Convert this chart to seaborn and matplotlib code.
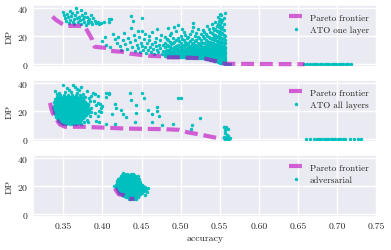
import matplotlib
matplotlib.use("Agg")
import matplotlib.pyplot as plt
import seaborn as sns
import pandas as pd

sns.set_theme(style="darkgrid")
plt.rcParams['font.family'] = ['cmr10', 'DejaVu Serif']
plt.rcParams['axes.formatter.use_mathtext'] = True
plt.rcParams['axes.unicode_minus'] = False

# ---- ATO one layer (panel 1) ----
one_front = [(0.336, 34.0), (0.341, 31.5), (0.348, 29.0), (0.355, 27.4), (0.371, 27.4),
             (0.378, 26.5), (0.387, 17.5), (0.390, 12.5), (0.405, 11.6), (0.411, 9.5),
             (0.428, 8.7), (0.435, 7.6), (0.451, 6.5), (0.460, 6.0), (0.477, 5.6),
             (0.483, 4.9), (0.500, 4.9), (0.509, 4.6), (0.527, 4.3), (0.534, 3.6),
             (0.550, 1.5), (0.556, 0.3), (0.658, 0.0)]

one_upper = [(0.350, 37.5), (0.351, 35.0), (0.352, 33.0), (0.353, 31.0), (0.355, 36.0),
             (0.356, 33.5), (0.357, 29.5), (0.358, 31.5), (0.359, 38.0), (0.360, 34.5),
             (0.361, 36.5), (0.362, 30.0), (0.363, 32.5), (0.364, 28.5), (0.365, 35.0),
             (0.366, 40.0), (0.367, 33.0), (0.368, 37.0), (0.369, 30.5), (0.370, 34.0),
             (0.371, 31.5), (0.372, 38.5), (0.373, 29.0), (0.374, 35.5), (0.375, 32.0),
             (0.376, 33.5), (0.377, 30.0), (0.378, 36.5), (0.379, 28.0), (0.380, 34.0),
             (0.381, 31.0), (0.382, 29.5), (0.383, 32.5), (0.385, 35.5), (0.386, 30.5),
             (0.387, 28.5), (0.388, 33.0), (0.390, 31.0), (0.392, 29.5), (0.394, 30.5),
             (0.396, 28.7), (0.398, 29.5), (0.402, 30.0), (0.408, 32.5), (0.411, 32.5),
             (0.409, 30.0)]

one_mid = [(0.399, 16.7), (0.403, 19.4), (0.405, 14.0), (0.410, 12.5), (0.413, 21.8),
           (0.416, 18.0), (0.418, 15.5), (0.420, 19.5), (0.422, 13.0), (0.424, 10.5),
           (0.426, 17.0), (0.427, 22.5), (0.429, 14.5), (0.431, 11.0), (0.433, 19.0),
           (0.435, 16.0), (0.437, 34.5), (0.437, 26.0), (0.438, 12.5), (0.439, 31.0),
           (0.440, 21.0), (0.441, 9.5), (0.442, 17.5), (0.444, 14.0), (0.445, 24.0),
           (0.446, 11.5), (0.447, 19.5), (0.448, 8.5), (0.449, 15.5), (0.450, 13.0),
           (0.451, 33.0), (0.451, 24.0), (0.452, 10.0), (0.453, 18.0), (0.454, 21.5),
           (0.455, 12.0), (0.456, 8.0), (0.457, 15.0), (0.458, 10.5), (0.459, 17.0),
           (0.460, 20.0), (0.461, 12.5), (0.462, 9.0), (0.463, 14.5), (0.464, 23.0),
           (0.465, 11.0), (0.466, 7.5), (0.467, 16.0), (0.468, 13.0), (0.469, 19.0),
           (0.470, 25.5), (0.470, 10.0), (0.471, 8.5), (0.472, 14.0), (0.473, 17.5),
           (0.474, 11.5), (0.475, 21.0), (0.476, 7.0), (0.477, 13.5), (0.478, 9.5)]

one_band = {
    0.480: [5.6, 7.2, 9.1, 12.0, 15.3, 19.8],
    0.484: [5.3, 6.4, 8.2, 10.5, 13.1, 17.0, 26.0],
    0.488: [5.1, 6.8, 8.8, 11.2, 14.4, 22.5],
    0.492: [5.0, 6.1, 7.6, 9.8, 12.6, 16.2, 26.7],
    0.496: [4.9, 5.8, 7.0, 8.9, 11.0, 13.8, 18.5, 27.8],
    0.500: [4.8, 6.3, 7.9, 9.6, 12.1, 15.0, 20.5],
    0.504: [4.8, 5.6, 7.1, 8.5, 10.3, 13.2, 17.3, 23.0],
    0.508: [4.7, 5.9, 6.8, 8.0, 9.4, 11.5, 14.6, 19.0],
    0.512: [4.6, 5.4, 6.5, 7.6, 9.0, 10.8, 13.0, 16.4, 21.8],
    0.516: [4.6, 5.7, 6.9, 8.2, 9.9, 12.2, 15.1, 26.4, 29.5],
    0.520: [4.5, 5.3, 6.2, 7.4, 8.7, 10.4, 12.9, 17.6, 22.4],
    0.524: [4.4, 5.5, 6.6, 7.9, 9.5, 11.3, 14.2, 18.8],
    0.528: [4.2, 5.1, 6.0, 7.2, 8.4, 10.0, 12.1, 15.5, 20.0, 24.6],
    0.532: [3.8, 4.8, 5.8, 6.9, 8.1, 9.6, 11.6, 13.9, 17.2, 21.5],
    0.536: [3.4, 4.5, 5.5, 6.6, 7.7, 9.1, 10.9, 13.0, 16.0, 19.5, 25.0],
    0.540: [2.9, 4.0, 5.1, 6.3, 7.5, 8.8, 10.4, 12.4, 14.8, 18.0, 22.0, 29.0],
    0.543: [2.5, 3.6, 4.8, 6.0, 7.2, 8.6, 10.1, 12.0, 14.3, 17.1, 20.5, 24.5],
    0.546: [2.0, 3.2, 4.4, 5.6, 6.9, 8.3, 9.8, 11.6, 13.8, 16.4, 19.6, 23.5, 27.5],
    0.549: [1.5, 2.7, 3.9, 5.2, 6.5, 7.9, 9.5, 11.3, 13.4, 15.9, 18.8, 22.3, 26.5, 31.0],
    0.552: [1.0, 2.2, 3.5, 4.8, 6.2, 7.6, 9.2, 11.0, 13.1, 15.5, 18.2, 21.5, 25.5, 30.5, 35.0],
    0.555: [0.6, 1.8, 3.0, 4.4, 5.8, 7.3, 9.0, 10.8, 12.8, 15.2, 18.0, 21.0, 24.5, 28.5, 33.0],
    0.557: [0.3, 1.2, 2.4, 3.8, 5.3, 7.0, 8.8, 10.6, 12.5, 15.0, 17.5, 20.5, 36.6],
}

one_band_between = {
    0.482: [6.0, 8.0, 10.2, 13.5, 17.8],
    0.486: [5.8, 7.5, 9.6, 12.3, 15.8, 21.0],
    0.490: [5.5, 7.0, 9.0, 11.8, 14.8, 19.0],
    0.494: [5.4, 6.9, 8.5, 10.6, 13.2, 17.5, 23.5],
    0.498: [5.3, 6.6, 8.2, 10.3, 12.8, 16.5],
    0.502: [5.2, 6.8, 8.6, 10.9, 13.6, 18.0, 25.0],
    0.506: [5.0, 6.3, 7.6, 9.2, 11.0, 13.9, 16.0, 21.0],
    0.510: [4.9, 6.0, 7.3, 8.6, 10.2, 12.3, 15.5, 19.5],
    0.514: [4.9, 6.1, 7.2, 8.5, 10.0, 11.9, 14.3, 18.2, 24.0],
    0.518: [4.8, 5.9, 7.1, 8.4, 9.8, 11.6, 13.8, 16.8, 20.5],
    0.522: [4.8, 5.8, 6.9, 8.1, 9.3, 10.9, 12.6, 15.0, 19.5, 25.0],
    0.526: [4.7, 5.8, 6.9, 8.1, 9.0, 10.6, 12.8, 15.0, 17.2, 21.8],
    0.530: [4.3, 5.4, 6.5, 7.6, 8.9, 10.4, 12.5, 14.8, 18.5, 23.2],
    0.534: [3.8, 5.0, 6.1, 7.3, 8.5, 10.0, 11.8, 14.3, 16.8, 20.2, 27.0],
    0.538: [3.2, 4.3, 5.4, 6.6, 7.9, 9.4, 11.2, 13.5, 15.9, 19.0, 23.0],
    0.5415: [2.7, 3.8, 5.0, 6.2, 7.5, 8.9, 10.6, 12.8, 15.5, 18.5, 21.5, 26.0],
    0.5445: [2.2, 3.4, 4.6, 5.9, 7.2, 8.6, 10.2, 12.3, 14.6, 17.8, 21.2, 25.5, 30.0],
    0.5475: [1.8, 3.0, 4.2, 5.5, 6.9, 8.3, 9.9, 11.8, 14.1, 16.8, 20.0, 24.0, 28.5, 33.5],
    0.5505: [1.2, 2.5, 3.8, 5.0, 6.4, 7.8, 9.4, 11.2, 13.6, 16.2, 19.3, 23.0, 27.8, 32.0,
             36.0],
    0.5535: [0.8, 2.0, 3.3, 4.6, 6.0, 7.5, 9.1, 10.9, 13.0, 15.6, 18.6, 22.0, 26.5, 31.5],
}

one_zero = [0.559, 0.561, 0.563, 0.658, 0.662, 0.666, 0.669, 0.672, 0.675, 0.678, 0.681,
            0.684, 0.687, 0.690, 0.693, 0.696, 0.699, 0.702, 0.705, 0.708, 0.711,
            0.714, 0.718]

# ---- ATO all layers (panel 2) ----
all_front = [(0.333, 26.0), (0.335, 21.0), (0.337, 18.0), (0.341, 14.3), (0.3455, 10.6),
             (0.352, 8.9), (0.374, 8.9), (0.400, 8.3), (0.430, 7.6), (0.450, 7.4),
             (0.477, 7.2), (0.498, 6.7), (0.509, 4.9), (0.527, 3.2), (0.533, 2.4),
             (0.553, 0.2)]

all_core = {
    31.6: [0.346, 0.351, 0.356, 0.361, 0.366, 0.371],
    30.0: [0.342, 0.346, 0.350, 0.353, 0.357, 0.360, 0.364, 0.368, 0.372, 0.377],
    28.4: [0.339, 0.342, 0.345, 0.348, 0.351, 0.354, 0.357, 0.360, 0.363, 0.366, 0.369,
           0.372, 0.375],
    26.8: [0.338, 0.341, 0.344, 0.347, 0.350, 0.353, 0.356, 0.359, 0.362, 0.365, 0.368,
           0.371, 0.374, 0.378],
    25.2: [0.339, 0.342, 0.345, 0.348, 0.351, 0.354, 0.357, 0.360, 0.363, 0.366, 0.369,
           0.372, 0.375, 0.378, 0.381],
    23.6: [0.338, 0.341, 0.344, 0.347, 0.350, 0.353, 0.356, 0.359, 0.362, 0.365, 0.368,
           0.371, 0.374, 0.377, 0.380],
    22.0: [0.337, 0.340, 0.343, 0.346, 0.349, 0.352, 0.355, 0.358, 0.361, 0.364, 0.367,
           0.370, 0.373, 0.376, 0.379, 0.382],
    20.4: [0.338, 0.341, 0.344, 0.347, 0.350, 0.353, 0.356, 0.359, 0.362, 0.365, 0.368,
           0.371, 0.374, 0.377, 0.380, 0.383],
    18.8: [0.339, 0.342, 0.345, 0.348, 0.351, 0.354, 0.357, 0.360, 0.363, 0.366, 0.369,
           0.372, 0.375, 0.378, 0.381],
    17.2: [0.340, 0.343, 0.346, 0.349, 0.352, 0.355, 0.358, 0.361, 0.364, 0.367, 0.370,
           0.373, 0.376, 0.379],
    15.6: [0.341, 0.344, 0.347, 0.350, 0.353, 0.356, 0.359, 0.362, 0.365, 0.368, 0.371,
           0.374, 0.377],
    14.0: [0.343, 0.346, 0.349, 0.352, 0.355, 0.358, 0.361, 0.364, 0.367, 0.370, 0.373],
    12.4: [0.346, 0.349, 0.352, 0.355, 0.358, 0.361, 0.364, 0.367, 0.370],
    11.0: [0.350, 0.354, 0.358, 0.362, 0.366],
}

all_core_between = {
    29.2: [0.3435, 0.3465, 0.3495, 0.3525, 0.3555, 0.3585, 0.3615, 0.3645, 0.3675, 0.3705,
           0.3735],
    27.6: [0.3405, 0.3435, 0.3465, 0.3495, 0.3525, 0.3555, 0.3585, 0.3615, 0.3645, 0.3675,
           0.3705, 0.3735, 0.3765],
    26.0: [0.3395, 0.3425, 0.3455, 0.3485, 0.3515, 0.3545, 0.3575, 0.3605, 0.3635, 0.3665,
           0.3695, 0.3725, 0.3755, 0.3785],
    24.4: [0.3395, 0.3425, 0.3455, 0.3485, 0.3515, 0.3545, 0.3575, 0.3605, 0.3635, 0.3665,
           0.3695, 0.3725, 0.3755, 0.3785, 0.3815],
    22.8: [0.3385, 0.3415, 0.3445, 0.3475, 0.3505, 0.3535, 0.3565, 0.3595, 0.3625, 0.3655,
           0.3685, 0.3715, 0.3745, 0.3775, 0.3805],
    21.2: [0.3375, 0.3405, 0.3435, 0.3465, 0.3495, 0.3525, 0.3555, 0.3585, 0.3615, 0.3645,
           0.3675, 0.3705, 0.3735, 0.3765, 0.3795, 0.3825],
    19.6: [0.3385, 0.3415, 0.3445, 0.3475, 0.3505, 0.3535, 0.3565, 0.3595, 0.3625, 0.3655,
           0.3685, 0.3715, 0.3745, 0.3775, 0.3805],
    18.0: [0.3395, 0.3425, 0.3455, 0.3485, 0.3515, 0.3545, 0.3575, 0.3605, 0.3635, 0.3665,
           0.3695, 0.3725, 0.3755, 0.3785],
    16.4: [0.3405, 0.3435, 0.3465, 0.3495, 0.3525, 0.3555, 0.3585, 0.3615, 0.3645, 0.3675,
           0.3705, 0.3735, 0.3765],
    14.8: [0.3425, 0.3455, 0.3485, 0.3515, 0.3545, 0.3575, 0.3605, 0.3635, 0.3665, 0.3695,
           0.3725, 0.3755],
    13.2: [0.3445, 0.3475, 0.3505, 0.3535, 0.3565, 0.3595, 0.3625, 0.3655, 0.3685, 0.3715],
    11.8: [0.3475, 0.3505, 0.3535, 0.3565, 0.3595, 0.3625, 0.3655, 0.3685],
}

all_fringe = [(0.339, 34.5), (0.350, 38.5), (0.362, 39.0), (0.365, 37.5), (0.367, 36.0),
              (0.373, 37.0), (0.380, 34.5), (0.388, 33.0), (0.391, 32.0), (0.394, 31.0),
              (0.405, 33.0), (0.409, 33.0), (0.384, 27.0), (0.392, 24.8), (0.394, 26.0),
              (0.398, 22.5), (0.390, 19.0), (0.394, 16.5), (0.384, 16.5), (0.380, 14.0),
              (0.344, 33.0), (0.352, 34.0), (0.357, 35.5), (0.360, 33.5), (0.368, 33.0),
              (0.375, 32.5), (0.378, 30.0), (0.383, 29.5), (0.386, 22.0), (0.385, 19.5),
              (0.382, 12.5), (0.376, 12.0), (0.372, 10.8), (0.355, 36.8), (0.370, 35.0),
              (0.386, 31.0), (0.342, 32.0), (0.389, 27.5), (0.395, 20.5)]

all_right = [(0.397, 25.0), (0.400, 23.6), (0.405, 30.0), (0.409, 32.5), (0.416, 25.0),
             (0.417, 22.6), (0.398, 19.3), (0.412, 18.1), (0.392, 13.3), (0.396, 12.1),
             (0.405, 10.9), (0.416, 10.9), (0.424, 20.7), (0.426, 17.9), (0.435, 32.9),
             (0.437, 28.1), (0.441, 12.1), (0.450, 32.9), (0.453, 29.3), (0.443, 24.5),
             (0.464, 18.1), (0.470, 19.8), (0.472, 16.9), (0.464, 12.1), (0.500, 29.3),
             (0.490, 10.9), (0.513, 7.4), (0.497, 29.4), (0.514, 9.8), (0.525, 15.3),
             (0.476, 10.3), (0.470, 23.0), (0.458, 20.6), (0.443, 18.5), (0.430, 16.0)]

all_cluster = [(0.555, 8.5), (0.558, 8.6), (0.557, 6.5), (0.561, 7.0), (0.557, 4.5),
               (0.559, 3.2), (0.556, 1.8), (0.558, 1.2), (0.561, 1.6), (0.563, 0.6),
               (0.555, 0.6), (0.559, 0.3), (0.562, 0.2), (0.557, 0.2), (0.560, 2.5)]

all_zero = [0.660, 0.666, 0.670, 0.674, 0.677, 0.680, 0.683, 0.686, 0.689, 0.692, 0.695,
            0.698, 0.701, 0.704, 0.707, 0.710, 0.716, 0.722, 0.727, 0.731]

# ---- adversarial (panel 3) ----
adv_front = [(0.416, 18.5), (0.418, 16.5), (0.421, 14.2), (0.427, 13.6), (0.431, 12.0),
             (0.434, 11.0), (0.441, 10.9)]

adv_rows = {
    28.5: [0.428, 0.432, 0.436, 0.439],
    27.0: [0.424, 0.427, 0.430, 0.433, 0.436, 0.439, 0.442],
    25.5: [0.421, 0.4235, 0.426, 0.429, 0.432, 0.435, 0.438, 0.441, 0.444],
    24.0: [0.419, 0.422, 0.425, 0.428, 0.431, 0.434, 0.437, 0.440, 0.443, 0.446],
    22.5: [0.418, 0.4205, 0.4235, 0.4265, 0.4295, 0.4325, 0.4355, 0.4385, 0.4415, 0.4445,
           0.4475],
    21.0: [0.417, 0.420, 0.423, 0.426, 0.429, 0.432, 0.435, 0.438, 0.441, 0.444, 0.447,
           0.450],
    19.5: [0.4175, 0.4205, 0.4235, 0.4265, 0.4295, 0.4325, 0.4355, 0.4385, 0.4415, 0.4445,
           0.4475, 0.4505, 0.454],
    18.0: [0.419, 0.422, 0.425, 0.428, 0.431, 0.434, 0.437, 0.440, 0.443, 0.446, 0.449,
           0.452, 0.456],
    16.5: [0.4195, 0.4225, 0.4255, 0.4285, 0.4315, 0.4345, 0.4375, 0.4405, 0.4435, 0.4465,
           0.4495, 0.453],
    15.0: [0.421, 0.424, 0.427, 0.430, 0.433, 0.436, 0.439, 0.442, 0.445, 0.448, 0.451],
    13.5: [0.4255, 0.4285, 0.4315, 0.4345, 0.4375, 0.4405, 0.4435, 0.4465],
    12.0: [0.430, 0.433, 0.436, 0.439, 0.442, 0.445],
    10.8: [0.434, 0.437, 0.440, 0.443],
}

adv_rows_between = {
    27.8: [0.4255, 0.4285, 0.4315, 0.4345, 0.4375, 0.4405],
    26.2: [0.4225, 0.4255, 0.4285, 0.4315, 0.4345, 0.4375, 0.4405, 0.4435],
    24.8: [0.420, 0.423, 0.426, 0.429, 0.432, 0.435, 0.438, 0.441, 0.444, 0.447],
    23.2: [0.4185, 0.4215, 0.4245, 0.4275, 0.4305, 0.4335, 0.4365, 0.4395, 0.4425, 0.4455,
           0.4485],
    21.8: [0.418, 0.421, 0.424, 0.427, 0.430, 0.433, 0.436, 0.439, 0.442, 0.445, 0.448],
    20.2: [0.4175, 0.4195, 0.4225, 0.4255, 0.4285, 0.4315, 0.4345, 0.4375, 0.4405, 0.4435,
           0.4465, 0.4495, 0.4525],
    18.8: [0.418, 0.421, 0.424, 0.427, 0.430, 0.433, 0.436, 0.439, 0.442, 0.445, 0.448,
           0.451, 0.455],
    17.2: [0.4205, 0.4235, 0.4265, 0.4295, 0.4325, 0.4355, 0.4385, 0.4415, 0.4445, 0.4475,
           0.4505, 0.4545],
    15.8: [0.4225, 0.4255, 0.4285, 0.4315, 0.4345, 0.4375, 0.4405, 0.4435, 0.4465, 0.4495],
    14.2: [0.4245, 0.4275, 0.4305, 0.4335, 0.4365, 0.4395, 0.4425, 0.4455, 0.4485],
    12.8: [0.428, 0.431, 0.434, 0.437, 0.440, 0.443, 0.446],
    11.4: [0.4335, 0.4365, 0.4395, 0.4425],
}

adv_extra = [(0.415, 20.5), (0.457, 16.0), (0.458, 19.0), (0.426, 29.2), (0.445, 27.5),
             (0.455, 14.0)]

x_ticks = [0.35, 0.40, 0.45, 0.50, 0.55, 0.60, 0.65, 0.70, 0.75]
y_ticks = [0, 20, 40]


def from_pairs(pairs):
    return [p[0] for p in pairs], [p[1] for p in pairs]


def from_rows(rows):
    xs, ys = [], []
    for dp, accs in rows.items():
        xs += accs
        ys += [dp] * len(accs)
    return xs, ys


def from_cols(cols):
    xs, ys = [], []
    for acc, dps in cols.items():
        xs += [acc] * len(dps)
        ys += dps
    return xs, ys


def make_df(*parts):
    xs, ys = [], []
    for px, py in parts:
        xs += px
        ys += py
    return pd.DataFrame({"accuracy": xs, "DP": ys})


one_df = make_df(from_pairs(one_upper), from_pairs(one_mid), from_cols(one_band),
                 from_cols(one_band_between), (one_zero, [0.2] * len(one_zero)))
all_df = make_df(from_rows(all_core), from_rows(all_core_between), from_pairs(all_fringe),
                 from_pairs(all_right), from_pairs(all_cluster),
                 (all_zero, [0.2] * len(all_zero)))
adv_df = make_df(from_rows(adv_rows), from_rows(adv_rows_between), from_pairs(adv_extra))

panels = [
    (one_df, make_df(from_pairs(one_front)), "ATO one layer"),
    (all_df, make_df(from_pairs(all_front)), "ATO all layers"),
    (adv_df, make_df(from_pairs(adv_front)), "adversarial"),
]

fig, axes = plt.subplots(3, 1, figsize=(3.91, 2.51), dpi=100, sharex=True, sharey=True)
fig.subplots_adjust(left=0.084, right=0.964, top=0.976, bottom=0.1315, hspace=0.21)

for ax, (df, front, label) in zip(axes, panels):
    sns.scatterplot(data=df, x="accuracy", y="DP", ax=ax, color="#00BFBF", s=6,
                    linewidth=0, label=label, zorder=2)
    sns.lineplot(data=front, x="accuracy", y="DP", ax=ax, sort=False, estimator=None,
                 color="#BF00BF", alpha=0.6, lw=3, linestyle=(0, (3.1, 1.4)),
                 label="Pareto frontier", zorder=3)
    h, l = ax.get_legend_handles_labels()
    ax.legend([h[1], h[0]], [l[1], l[0]], loc="upper right", frameon=False,
              fontsize=6.5, handlelength=1.5, labelspacing=0.4)
    ax.set_ylabel("DP", fontsize=7, labelpad=3)
    ax.set_xlabel("")
    ax.set_yticks(y_ticks)
    ax.tick_params(labelsize=7, pad=3, length=0)

axes[-1].set_xticks(x_ticks)
axes[-1].set_xticklabels([f"{t:.2f}" for t in x_ticks])
axes[-1].set_xlim(0.311, 0.751)
axes[-1].set_ylim(-2.0, 42.3)
axes[-1].set_xlabel("accuracy", fontsize=7, labelpad=3)

plt.savefig("out.png", dpi=100)
